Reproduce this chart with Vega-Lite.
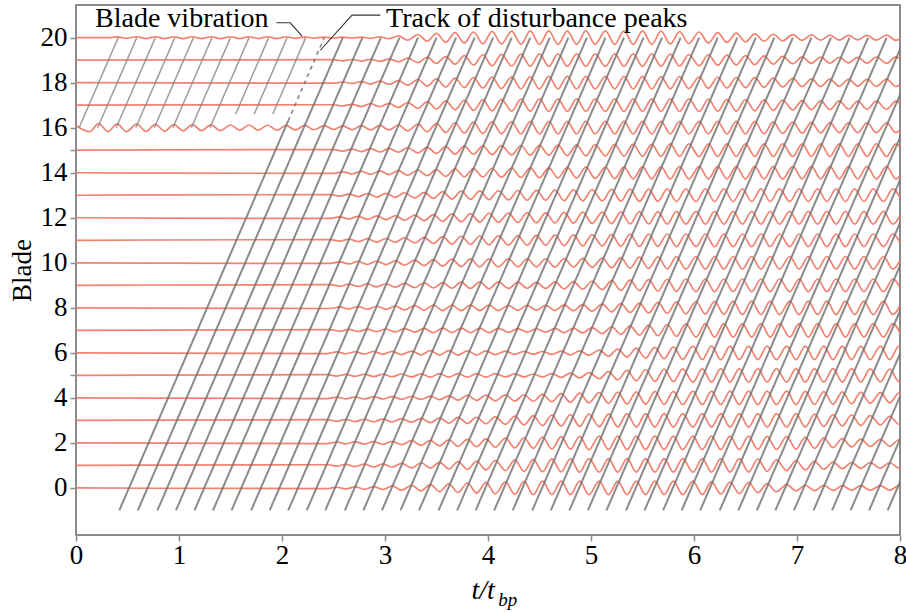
{
"$schema":"https://vega.github.io/schema/vega-lite/v6.json",
"width":824,"height":530,
"autosize":{"type":"none"},
"padding":{"left":76,"top":5,"right":6,"bottom":77},
"config":{"view":{"stroke":"#8c8c8c","strokeWidth":2},"font":"Liberation Serif"},
"datasets":{
"blades":[
{"b":0,"x":0,"y":0},{"b":0,"x":2.44,"y":-0.03},{"b":0,"x":2.53,"y":0.03},{"b":0,"x":2.62,"y":-0.04},{"b":0,"x":2.71,"y":0.05},{"b":0,"x":2.80,"y":-0.06},{"b":0,"x":2.89,"y":0.06},{"b":0,"x":2.98,"y":-0.07},{"b":0,"x":3.07,"y":0.09},{"b":0,"x":3.16,"y":-0.10},{"b":0,"x":3.26,"y":0.12},{"b":0,"x":3.35,"y":-0.13},{"b":0,"x":3.44,"y":0.15},{"b":0,"x":3.53,"y":-0.16},{"b":0,"x":3.62,"y":0.18},{"b":0,"x":3.71,"y":-0.20},{"b":0,"x":3.80,"y":0.22},{"b":0,"x":3.89,"y":-0.23},{"b":0,"x":3.98,"y":0.25},{"b":0,"x":4.07,"y":-0.26},{"b":0,"x":4.17,"y":0.27},{"b":0,"x":4.26,"y":-0.28},{"b":0,"x":4.35,"y":0.29},{"b":0,"x":4.44,"y":-0.30},{"b":0,"x":4.53,"y":0.30},{"b":0,"x":4.62,"y":-0.30},{"b":0,"x":4.71,"y":0.30},{"b":0,"x":4.80,"y":-0.30},{"b":0,"x":4.89,"y":0.30},{"b":0,"x":4.98,"y":-0.30},{"b":0,"x":5.08,"y":0.30},{"b":0,"x":5.17,"y":-0.30},{"b":0,"x":5.26,"y":0.30},{"b":0,"x":5.35,"y":-0.30},{"b":0,"x":5.44,"y":0.30},{"b":0,"x":5.53,"y":-0.30},{"b":0,"x":5.62,"y":0.30},{"b":0,"x":5.71,"y":-0.30},{"b":0,"x":5.80,"y":0.30},{"b":0,"x":5.89,"y":-0.30},{"b":0,"x":5.99,"y":0.30},{"b":0,"x":6.08,"y":-0.29},{"b":0,"x":6.17,"y":0.28},{"b":0,"x":6.26,"y":-0.27},{"b":0,"x":6.35,"y":0.26},{"b":0,"x":6.44,"y":-0.25},{"b":0,"x":6.53,"y":0.24},{"b":0,"x":6.62,"y":-0.21},{"b":0,"x":6.71,"y":0.19},{"b":0,"x":6.80,"y":-0.17},{"b":0,"x":6.90,"y":0.15},{"b":0,"x":6.99,"y":-0.13},{"b":0,"x":7.08,"y":0.12},{"b":0,"x":7.17,"y":-0.12},{"b":0,"x":7.26,"y":0.11},{"b":0,"x":7.35,"y":-0.11},{"b":0,"x":7.44,"y":0.10},{"b":0,"x":7.53,"y":-0.10},{"b":0,"x":7.62,"y":0.10},{"b":0,"x":7.71,"y":-0.10},{"b":0,"x":7.81,"y":0.10},{"b":0,"x":7.90,"y":-0.10},{"b":0,"x":7.99,"y":0.10},{"b":0,"x":8.08,"y":-0.10},
{"b":1,"x":0,"y":1},{"b":1,"x":2.44,"y":1.03},{"b":1,"x":2.53,"y":0.97},{"b":1,"x":2.62,"y":1.05},{"b":1,"x":2.71,"y":0.95},{"b":1,"x":2.80,"y":1.06},{"b":1,"x":2.89,"y":0.93},{"b":1,"x":2.98,"y":1.07},{"b":1,"x":3.07,"y":0.92},{"b":1,"x":3.16,"y":1.09},{"b":1,"x":3.26,"y":0.89},{"b":1,"x":3.35,"y":1.12},{"b":1,"x":3.44,"y":0.88},{"b":1,"x":3.53,"y":1.14},{"b":1,"x":3.62,"y":0.85},{"b":1,"x":3.71,"y":1.17},{"b":1,"x":3.80,"y":0.82},{"b":1,"x":3.89,"y":1.19},{"b":1,"x":3.98,"y":0.80},{"b":1,"x":4.07,"y":1.22},{"b":1,"x":4.17,"y":0.77},{"b":1,"x":4.26,"y":1.25},{"b":1,"x":4.35,"y":0.74},{"b":1,"x":4.44,"y":1.27},{"b":1,"x":4.53,"y":0.72},{"b":1,"x":4.62,"y":1.29},{"b":1,"x":4.71,"y":0.71},{"b":1,"x":4.80,"y":1.29},{"b":1,"x":4.89,"y":0.70},{"b":1,"x":4.98,"y":1.30},{"b":1,"x":5.08,"y":0.70},{"b":1,"x":5.17,"y":1.30},{"b":1,"x":5.26,"y":0.70},{"b":1,"x":5.35,"y":1.30},{"b":1,"x":5.44,"y":0.70},{"b":1,"x":5.53,"y":1.30},{"b":1,"x":5.62,"y":0.70},{"b":1,"x":5.71,"y":1.30},{"b":1,"x":5.80,"y":0.70},{"b":1,"x":5.89,"y":1.30},{"b":1,"x":5.99,"y":0.70},{"b":1,"x":6.08,"y":1.30},{"b":1,"x":6.17,"y":0.70},{"b":1,"x":6.26,"y":1.30},{"b":1,"x":6.35,"y":0.70},{"b":1,"x":6.44,"y":1.30},{"b":1,"x":6.53,"y":0.71},{"b":1,"x":6.62,"y":1.28},{"b":1,"x":6.71,"y":0.74},{"b":1,"x":6.80,"y":1.25},{"b":1,"x":6.90,"y":0.77},{"b":1,"x":6.99,"y":1.22},{"b":1,"x":7.08,"y":0.80},{"b":1,"x":7.17,"y":1.18},{"b":1,"x":7.26,"y":0.83},{"b":1,"x":7.35,"y":1.15},{"b":1,"x":7.44,"y":0.86},{"b":1,"x":7.53,"y":1.13},{"b":1,"x":7.62,"y":0.87},{"b":1,"x":7.71,"y":1.13},{"b":1,"x":7.81,"y":0.88},{"b":1,"x":7.90,"y":1.12},{"b":1,"x":7.99,"y":0.88},{"b":1,"x":8.08,"y":1.12},
{"b":2,"x":0,"y":2},{"b":2,"x":2.44,"y":1.97},{"b":2,"x":2.53,"y":2.04},{"b":2,"x":2.62,"y":1.96},{"b":2,"x":2.71,"y":2.05},{"b":2,"x":2.80,"y":1.95},{"b":2,"x":2.89,"y":2.06},{"b":2,"x":2.98,"y":1.94},{"b":2,"x":3.07,"y":2.07},{"b":2,"x":3.16,"y":1.92},{"b":2,"x":3.26,"y":2.10},{"b":2,"x":3.35,"y":1.89},{"b":2,"x":3.44,"y":2.11},{"b":2,"x":3.53,"y":1.87},{"b":2,"x":3.62,"y":2.14},{"b":2,"x":3.71,"y":1.85},{"b":2,"x":3.80,"y":2.16},{"b":2,"x":3.89,"y":1.83},{"b":2,"x":3.98,"y":2.18},{"b":2,"x":4.07,"y":1.81},{"b":2,"x":4.17,"y":2.21},{"b":2,"x":4.26,"y":1.78},{"b":2,"x":4.35,"y":2.23},{"b":2,"x":4.44,"y":1.76},{"b":2,"x":4.53,"y":2.26},{"b":2,"x":4.62,"y":1.73},{"b":2,"x":4.71,"y":2.28},{"b":2,"x":4.80,"y":1.72},{"b":2,"x":4.89,"y":2.29},{"b":2,"x":4.98,"y":1.70},{"b":2,"x":5.08,"y":2.30},{"b":2,"x":5.17,"y":1.70},{"b":2,"x":5.26,"y":2.30},{"b":2,"x":5.35,"y":1.70},{"b":2,"x":5.44,"y":2.30},{"b":2,"x":5.53,"y":1.70},{"b":2,"x":5.62,"y":2.30},{"b":2,"x":5.71,"y":1.70},{"b":2,"x":5.80,"y":2.30},{"b":2,"x":5.89,"y":1.70},{"b":2,"x":5.99,"y":2.30},{"b":2,"x":6.08,"y":1.70},{"b":2,"x":6.17,"y":2.30},{"b":2,"x":6.26,"y":1.70},{"b":2,"x":6.35,"y":2.30},{"b":2,"x":6.44,"y":1.70},{"b":2,"x":6.53,"y":2.30},{"b":2,"x":6.62,"y":1.71},{"b":2,"x":6.71,"y":2.29},{"b":2,"x":6.80,"y":1.71},{"b":2,"x":6.90,"y":2.28},{"b":2,"x":6.99,"y":1.72},{"b":2,"x":7.08,"y":2.26},{"b":2,"x":7.17,"y":1.76},{"b":2,"x":7.26,"y":2.22},{"b":2,"x":7.35,"y":1.79},{"b":2,"x":7.44,"y":2.19},{"b":2,"x":7.53,"y":1.82},{"b":2,"x":7.62,"y":2.17},{"b":2,"x":7.71,"y":1.84},{"b":2,"x":7.81,"y":2.16},{"b":2,"x":7.90,"y":1.85},{"b":2,"x":7.99,"y":2.14},{"b":2,"x":8.08,"y":1.86},
{"b":3,"x":0,"y":3},{"b":3,"x":2.44,"y":3.03},{"b":3,"x":2.53,"y":2.96},{"b":3,"x":2.62,"y":3.04},{"b":3,"x":2.71,"y":2.95},{"b":3,"x":2.80,"y":3.05},{"b":3,"x":2.89,"y":2.94},{"b":3,"x":2.98,"y":3.06},{"b":3,"x":3.07,"y":2.93},{"b":3,"x":3.16,"y":3.08},{"b":3,"x":3.26,"y":2.92},{"b":3,"x":3.35,"y":3.09},{"b":3,"x":3.44,"y":2.90},{"b":3,"x":3.53,"y":3.11},{"b":3,"x":3.62,"y":2.88},{"b":3,"x":3.71,"y":3.13},{"b":3,"x":3.80,"y":2.87},{"b":3,"x":3.89,"y":3.14},{"b":3,"x":3.98,"y":2.85},{"b":3,"x":4.07,"y":3.16},{"b":3,"x":4.17,"y":2.82},{"b":3,"x":4.26,"y":3.19},{"b":3,"x":4.35,"y":2.80},{"b":3,"x":4.44,"y":3.21},{"b":3,"x":4.53,"y":2.77},{"b":3,"x":4.62,"y":3.24},{"b":3,"x":4.71,"y":2.75},{"b":3,"x":4.80,"y":3.26},{"b":3,"x":4.89,"y":2.73},{"b":3,"x":4.98,"y":3.28},{"b":3,"x":5.08,"y":2.72},{"b":3,"x":5.17,"y":3.29},{"b":3,"x":5.26,"y":2.71},{"b":3,"x":5.35,"y":3.30},{"b":3,"x":5.44,"y":2.70},{"b":3,"x":5.53,"y":3.30},{"b":3,"x":5.62,"y":2.70},{"b":3,"x":5.71,"y":3.30},{"b":3,"x":5.80,"y":2.70},{"b":3,"x":5.89,"y":3.30},{"b":3,"x":5.99,"y":2.70},{"b":3,"x":6.08,"y":3.30},{"b":3,"x":6.17,"y":2.70},{"b":3,"x":6.26,"y":3.30},{"b":3,"x":6.35,"y":2.70},{"b":3,"x":6.44,"y":3.30},{"b":3,"x":6.53,"y":2.70},{"b":3,"x":6.62,"y":3.30},{"b":3,"x":6.71,"y":2.70},{"b":3,"x":6.80,"y":3.30},{"b":3,"x":6.90,"y":2.70},{"b":3,"x":6.99,"y":3.30},{"b":3,"x":7.08,"y":2.71},{"b":3,"x":7.17,"y":3.28},{"b":3,"x":7.26,"y":2.73},{"b":3,"x":7.35,"y":3.26},{"b":3,"x":7.44,"y":2.75},{"b":3,"x":7.53,"y":3.24},{"b":3,"x":7.62,"y":2.77},{"b":3,"x":7.71,"y":3.21},{"b":3,"x":7.81,"y":2.80},{"b":3,"x":7.90,"y":3.18},{"b":3,"x":7.99,"y":2.83},{"b":3,"x":8.08,"y":3.17},
{"b":4,"x":0,"y":4},{"b":4,"x":2.44,"y":3.97},{"b":4,"x":2.53,"y":4.03},{"b":4,"x":2.62,"y":3.96},{"b":4,"x":2.71,"y":4.04},{"b":4,"x":2.80,"y":3.95},{"b":4,"x":2.89,"y":4.05},{"b":4,"x":2.98,"y":3.95},{"b":4,"x":3.07,"y":4.06},{"b":4,"x":3.16,"y":3.94},{"b":4,"x":3.26,"y":4.07},{"b":4,"x":3.35,"y":3.93},{"b":4,"x":3.44,"y":4.08},{"b":4,"x":3.53,"y":3.92},{"b":4,"x":3.62,"y":4.09},{"b":4,"x":3.71,"y":3.90},{"b":4,"x":3.80,"y":4.11},{"b":4,"x":3.89,"y":3.89},{"b":4,"x":3.98,"y":4.12},{"b":4,"x":4.07,"y":3.87},{"b":4,"x":4.17,"y":4.13},{"b":4,"x":4.26,"y":3.86},{"b":4,"x":4.35,"y":4.14},{"b":4,"x":4.44,"y":3.85},{"b":4,"x":4.53,"y":4.16},{"b":4,"x":4.62,"y":3.83},{"b":4,"x":4.71,"y":4.19},{"b":4,"x":4.80,"y":3.80},{"b":4,"x":4.89,"y":4.21},{"b":4,"x":4.98,"y":3.78},{"b":4,"x":5.08,"y":4.23},{"b":4,"x":5.17,"y":3.76},{"b":4,"x":5.26,"y":4.26},{"b":4,"x":5.35,"y":3.73},{"b":4,"x":5.44,"y":4.27},{"b":4,"x":5.53,"y":3.72},{"b":4,"x":5.62,"y":4.29},{"b":4,"x":5.71,"y":3.71},{"b":4,"x":5.80,"y":4.29},{"b":4,"x":5.89,"y":3.70},{"b":4,"x":5.99,"y":4.30},{"b":4,"x":6.08,"y":3.70},{"b":4,"x":6.17,"y":4.30},{"b":4,"x":6.26,"y":3.70},{"b":4,"x":6.35,"y":4.30},{"b":4,"x":6.44,"y":3.70},{"b":4,"x":6.53,"y":4.30},{"b":4,"x":6.62,"y":3.70},{"b":4,"x":6.71,"y":4.30},{"b":4,"x":6.80,"y":3.70},{"b":4,"x":6.90,"y":4.30},{"b":4,"x":6.99,"y":3.70},{"b":4,"x":7.08,"y":4.29},{"b":4,"x":7.17,"y":3.71},{"b":4,"x":7.26,"y":4.28},{"b":4,"x":7.35,"y":3.72},{"b":4,"x":7.44,"y":4.27},{"b":4,"x":7.53,"y":3.74},{"b":4,"x":7.62,"y":4.26},{"b":4,"x":7.71,"y":3.76},{"b":4,"x":7.81,"y":4.23},{"b":4,"x":7.90,"y":3.78},{"b":4,"x":7.99,"y":4.21},{"b":4,"x":8.08,"y":3.79},
{"b":5,"x":0,"y":5},{"b":5,"x":2.44,"y":5.03},{"b":5,"x":2.53,"y":4.97},{"b":5,"x":2.62,"y":5.04},{"b":5,"x":2.71,"y":4.96},{"b":5,"x":2.80,"y":5.05},{"b":5,"x":2.89,"y":4.95},{"b":5,"x":2.98,"y":5.05},{"b":5,"x":3.07,"y":4.94},{"b":5,"x":3.16,"y":5.06},{"b":5,"x":3.26,"y":4.93},{"b":5,"x":3.35,"y":5.07},{"b":5,"x":3.44,"y":4.92},{"b":5,"x":3.53,"y":5.08},{"b":5,"x":3.62,"y":4.92},{"b":5,"x":3.71,"y":5.08},{"b":5,"x":3.80,"y":4.92},{"b":5,"x":3.89,"y":5.08},{"b":5,"x":3.98,"y":4.92},{"b":5,"x":4.07,"y":5.08},{"b":5,"x":4.17,"y":4.93},{"b":5,"x":4.26,"y":5.07},{"b":5,"x":4.35,"y":4.93},{"b":5,"x":4.44,"y":5.06},{"b":5,"x":4.53,"y":4.93},{"b":5,"x":4.62,"y":5.08},{"b":5,"x":4.71,"y":4.91},{"b":5,"x":4.80,"y":5.10},{"b":5,"x":4.89,"y":4.89},{"b":5,"x":4.98,"y":5.12},{"b":5,"x":5.08,"y":4.85},{"b":5,"x":5.17,"y":5.17},{"b":5,"x":5.26,"y":4.80},{"b":5,"x":5.35,"y":5.22},{"b":5,"x":5.44,"y":4.76},{"b":5,"x":5.53,"y":5.26},{"b":5,"x":5.62,"y":4.73},{"b":5,"x":5.71,"y":5.28},{"b":5,"x":5.80,"y":4.72},{"b":5,"x":5.89,"y":5.29},{"b":5,"x":5.99,"y":4.70},{"b":5,"x":6.08,"y":5.30},{"b":5,"x":6.17,"y":4.70},{"b":5,"x":6.26,"y":5.30},{"b":5,"x":6.35,"y":4.70},{"b":5,"x":6.44,"y":5.30},{"b":5,"x":6.53,"y":4.70},{"b":5,"x":6.62,"y":5.30},{"b":5,"x":6.71,"y":4.70},{"b":5,"x":6.80,"y":5.30},{"b":5,"x":6.90,"y":4.70},{"b":5,"x":6.99,"y":5.30},{"b":5,"x":7.08,"y":4.70},{"b":5,"x":7.17,"y":5.30},{"b":5,"x":7.26,"y":4.70},{"b":5,"x":7.35,"y":5.30},{"b":5,"x":7.44,"y":4.70},{"b":5,"x":7.53,"y":5.30},{"b":5,"x":7.62,"y":4.70},{"b":5,"x":7.71,"y":5.29},{"b":5,"x":7.81,"y":4.71},{"b":5,"x":7.90,"y":5.28},{"b":5,"x":7.99,"y":4.72},{"b":5,"x":8.08,"y":5.28},
{"b":6,"x":0,"y":6},{"b":6,"x":2.44,"y":5.97},{"b":6,"x":2.53,"y":6.04},{"b":6,"x":2.62,"y":5.96},{"b":6,"x":2.71,"y":6.05},{"b":6,"x":2.80,"y":5.95},{"b":6,"x":2.89,"y":6.06},{"b":6,"x":2.98,"y":5.94},{"b":6,"x":3.07,"y":6.07},{"b":6,"x":3.16,"y":5.92},{"b":6,"x":3.26,"y":6.08},{"b":6,"x":3.35,"y":5.91},{"b":6,"x":3.44,"y":6.10},{"b":6,"x":3.53,"y":5.90},{"b":6,"x":3.62,"y":6.10},{"b":6,"x":3.71,"y":5.90},{"b":6,"x":3.80,"y":6.09},{"b":6,"x":3.89,"y":5.91},{"b":6,"x":3.98,"y":6.09},{"b":6,"x":4.07,"y":5.92},{"b":6,"x":4.17,"y":6.08},{"b":6,"x":4.26,"y":5.93},{"b":6,"x":4.35,"y":6.07},{"b":6,"x":4.44,"y":5.94},{"b":6,"x":4.53,"y":6.06},{"b":6,"x":4.62,"y":5.93},{"b":6,"x":4.71,"y":6.08},{"b":6,"x":4.80,"y":5.91},{"b":6,"x":4.89,"y":6.09},{"b":6,"x":4.98,"y":5.90},{"b":6,"x":5.08,"y":6.12},{"b":6,"x":5.17,"y":5.85},{"b":6,"x":5.26,"y":6.17},{"b":6,"x":5.35,"y":5.81},{"b":6,"x":5.44,"y":6.21},{"b":6,"x":5.53,"y":5.77},{"b":6,"x":5.62,"y":6.24},{"b":6,"x":5.71,"y":5.74},{"b":6,"x":5.80,"y":6.27},{"b":6,"x":5.89,"y":5.71},{"b":6,"x":5.99,"y":6.30},{"b":6,"x":6.08,"y":5.70},{"b":6,"x":6.17,"y":6.30},{"b":6,"x":6.26,"y":5.70},{"b":6,"x":6.35,"y":6.30},{"b":6,"x":6.44,"y":5.70},{"b":6,"x":6.53,"y":6.30},{"b":6,"x":6.62,"y":5.70},{"b":6,"x":6.71,"y":6.30},{"b":6,"x":6.80,"y":5.70},{"b":6,"x":6.90,"y":6.30},{"b":6,"x":6.99,"y":5.70},{"b":6,"x":7.08,"y":6.30},{"b":6,"x":7.17,"y":5.70},{"b":6,"x":7.26,"y":6.30},{"b":6,"x":7.35,"y":5.70},{"b":6,"x":7.44,"y":6.30},{"b":6,"x":7.53,"y":5.70},{"b":6,"x":7.62,"y":6.30},{"b":6,"x":7.71,"y":5.70},{"b":6,"x":7.81,"y":6.30},{"b":6,"x":7.90,"y":5.70},{"b":6,"x":7.99,"y":6.30},{"b":6,"x":8.08,"y":5.70},
{"b":7,"x":0,"y":7},{"b":7,"x":2.47,"y":7.03},{"b":7,"x":2.56,"y":6.96},{"b":7,"x":2.65,"y":7.04},{"b":7,"x":2.74,"y":6.95},{"b":7,"x":2.83,"y":7.05},{"b":7,"x":2.92,"y":6.94},{"b":7,"x":3.01,"y":7.06},{"b":7,"x":3.10,"y":6.93},{"b":7,"x":3.19,"y":7.08},{"b":7,"x":3.29,"y":6.92},{"b":7,"x":3.38,"y":7.09},{"b":7,"x":3.47,"y":6.90},{"b":7,"x":3.56,"y":7.10},{"b":7,"x":3.65,"y":6.90},{"b":7,"x":3.74,"y":7.10},{"b":7,"x":3.83,"y":6.90},{"b":7,"x":3.92,"y":7.10},{"b":7,"x":4.01,"y":6.90},{"b":7,"x":4.10,"y":7.09},{"b":7,"x":4.20,"y":6.91},{"b":7,"x":4.29,"y":7.08},{"b":7,"x":4.38,"y":6.92},{"b":7,"x":4.47,"y":7.07},{"b":7,"x":4.56,"y":6.92},{"b":7,"x":4.65,"y":7.09},{"b":7,"x":4.74,"y":6.90},{"b":7,"x":4.83,"y":7.10},{"b":7,"x":4.92,"y":6.89},{"b":7,"x":5.01,"y":7.12},{"b":7,"x":5.11,"y":6.86},{"b":7,"x":5.20,"y":7.16},{"b":7,"x":5.29,"y":6.82},{"b":7,"x":5.38,"y":7.20},{"b":7,"x":5.47,"y":6.79},{"b":7,"x":5.56,"y":7.23},{"b":7,"x":5.65,"y":6.76},{"b":7,"x":5.74,"y":7.26},{"b":7,"x":5.83,"y":6.73},{"b":7,"x":5.92,"y":7.29},{"b":7,"x":6.02,"y":6.70},{"b":7,"x":6.11,"y":7.30},{"b":7,"x":6.20,"y":6.70},{"b":7,"x":6.29,"y":7.30},{"b":7,"x":6.38,"y":6.70},{"b":7,"x":6.47,"y":7.30},{"b":7,"x":6.56,"y":6.70},{"b":7,"x":6.65,"y":7.30},{"b":7,"x":6.74,"y":6.70},{"b":7,"x":6.83,"y":7.30},{"b":7,"x":6.93,"y":6.70},{"b":7,"x":7.02,"y":7.30},{"b":7,"x":7.11,"y":6.70},{"b":7,"x":7.20,"y":7.30},{"b":7,"x":7.29,"y":6.70},{"b":7,"x":7.38,"y":7.30},{"b":7,"x":7.47,"y":6.70},{"b":7,"x":7.56,"y":7.30},{"b":7,"x":7.65,"y":6.70},{"b":7,"x":7.74,"y":7.30},{"b":7,"x":7.84,"y":6.70},{"b":7,"x":7.93,"y":7.30},{"b":7,"x":8.02,"y":6.70},
{"b":8,"x":0,"y":8},{"b":8,"x":2.47,"y":7.97},{"b":8,"x":2.56,"y":8.04},{"b":8,"x":2.65,"y":7.95},{"b":8,"x":2.74,"y":8.05},{"b":8,"x":2.83,"y":7.94},{"b":8,"x":2.92,"y":8.07},{"b":8,"x":3.01,"y":7.93},{"b":8,"x":3.10,"y":8.08},{"b":8,"x":3.19,"y":7.91},{"b":8,"x":3.29,"y":8.10},{"b":8,"x":3.38,"y":7.89},{"b":8,"x":3.47,"y":8.12},{"b":8,"x":3.56,"y":7.88},{"b":8,"x":3.65,"y":8.12},{"b":8,"x":3.74,"y":7.88},{"b":8,"x":3.83,"y":8.12},{"b":8,"x":3.92,"y":7.88},{"b":8,"x":4.01,"y":8.12},{"b":8,"x":4.10,"y":7.88},{"b":8,"x":4.20,"y":8.11},{"b":8,"x":4.29,"y":7.89},{"b":8,"x":4.38,"y":8.11},{"b":8,"x":4.47,"y":7.90},{"b":8,"x":4.56,"y":8.11},{"b":8,"x":4.65,"y":7.88},{"b":8,"x":4.74,"y":8.13},{"b":8,"x":4.83,"y":7.87},{"b":8,"x":4.92,"y":8.14},{"b":8,"x":5.01,"y":7.85},{"b":8,"x":5.11,"y":8.16},{"b":8,"x":5.20,"y":7.82},{"b":8,"x":5.29,"y":8.19},{"b":8,"x":5.38,"y":7.80},{"b":8,"x":5.47,"y":8.21},{"b":8,"x":5.56,"y":7.77},{"b":8,"x":5.65,"y":8.24},{"b":8,"x":5.74,"y":7.75},{"b":8,"x":5.83,"y":8.26},{"b":8,"x":5.92,"y":7.73},{"b":8,"x":6.02,"y":8.28},{"b":8,"x":6.11,"y":7.72},{"b":8,"x":6.20,"y":8.29},{"b":8,"x":6.29,"y":7.71},{"b":8,"x":6.38,"y":8.30},{"b":8,"x":6.47,"y":7.70},{"b":8,"x":6.56,"y":8.30},{"b":8,"x":6.65,"y":7.70},{"b":8,"x":6.74,"y":8.30},{"b":8,"x":6.83,"y":7.70},{"b":8,"x":6.93,"y":8.30},{"b":8,"x":7.02,"y":7.70},{"b":8,"x":7.11,"y":8.30},{"b":8,"x":7.20,"y":7.70},{"b":8,"x":7.29,"y":8.30},{"b":8,"x":7.38,"y":7.70},{"b":8,"x":7.47,"y":8.30},{"b":8,"x":7.56,"y":7.70},{"b":8,"x":7.65,"y":8.30},{"b":8,"x":7.74,"y":7.70},{"b":8,"x":7.84,"y":8.30},{"b":8,"x":7.93,"y":7.70},{"b":8,"x":8.02,"y":8.30},
{"b":9,"x":0,"y":9},{"b":9,"x":2.47,"y":9.03},{"b":9,"x":2.56,"y":8.96},{"b":9,"x":2.65,"y":9.05},{"b":9,"x":2.74,"y":8.95},{"b":9,"x":2.83,"y":9.06},{"b":9,"x":2.92,"y":8.93},{"b":9,"x":3.01,"y":9.07},{"b":9,"x":3.10,"y":8.92},{"b":9,"x":3.19,"y":9.09},{"b":9,"x":3.29,"y":8.90},{"b":9,"x":3.38,"y":9.11},{"b":9,"x":3.47,"y":8.88},{"b":9,"x":3.56,"y":9.12},{"b":9,"x":3.65,"y":8.87},{"b":9,"x":3.74,"y":9.14},{"b":9,"x":3.83,"y":8.86},{"b":9,"x":3.92,"y":9.15},{"b":9,"x":4.01,"y":8.85},{"b":9,"x":4.10,"y":9.15},{"b":9,"x":4.20,"y":8.86},{"b":9,"x":4.29,"y":9.14},{"b":9,"x":4.38,"y":8.87},{"b":9,"x":4.47,"y":9.13},{"b":9,"x":4.56,"y":8.86},{"b":9,"x":4.65,"y":9.15},{"b":9,"x":4.74,"y":8.84},{"b":9,"x":4.83,"y":9.16},{"b":9,"x":4.92,"y":8.83},{"b":9,"x":5.01,"y":9.18},{"b":9,"x":5.11,"y":8.81},{"b":9,"x":5.20,"y":9.21},{"b":9,"x":5.29,"y":8.78},{"b":9,"x":5.38,"y":9.23},{"b":9,"x":5.47,"y":8.76},{"b":9,"x":5.56,"y":9.25},{"b":9,"x":5.65,"y":8.74},{"b":9,"x":5.74,"y":9.27},{"b":9,"x":5.83,"y":8.73},{"b":9,"x":5.92,"y":9.28},{"b":9,"x":6.02,"y":8.72},{"b":9,"x":6.11,"y":9.28},{"b":9,"x":6.20,"y":8.72},{"b":9,"x":6.29,"y":9.28},{"b":9,"x":6.38,"y":8.72},{"b":9,"x":6.47,"y":9.28},{"b":9,"x":6.56,"y":8.72},{"b":9,"x":6.65,"y":9.28},{"b":9,"x":6.74,"y":8.72},{"b":9,"x":6.83,"y":9.28},{"b":9,"x":6.93,"y":8.72},{"b":9,"x":7.02,"y":9.28},{"b":9,"x":7.11,"y":8.72},{"b":9,"x":7.20,"y":9.28},{"b":9,"x":7.29,"y":8.72},{"b":9,"x":7.38,"y":9.28},{"b":9,"x":7.47,"y":8.72},{"b":9,"x":7.56,"y":9.28},{"b":9,"x":7.65,"y":8.72},{"b":9,"x":7.74,"y":9.28},{"b":9,"x":7.84,"y":8.72},{"b":9,"x":7.93,"y":9.28},{"b":9,"x":8.02,"y":8.72},
{"b":10,"x":0,"y":10},{"b":10,"x":2.47,"y":9.97},{"b":10,"x":2.56,"y":10.04},{"b":10,"x":2.65,"y":9.95},{"b":10,"x":2.74,"y":10.06},{"b":10,"x":2.83,"y":9.93},{"b":10,"x":2.92,"y":10.08},{"b":10,"x":3.01,"y":9.92},{"b":10,"x":3.10,"y":10.09},{"b":10,"x":3.19,"y":9.89},{"b":10,"x":3.29,"y":10.12},{"b":10,"x":3.38,"y":9.87},{"b":10,"x":3.47,"y":10.14},{"b":10,"x":3.56,"y":9.85},{"b":10,"x":3.65,"y":10.16},{"b":10,"x":3.74,"y":9.83},{"b":10,"x":3.83,"y":10.17},{"b":10,"x":3.92,"y":9.82},{"b":10,"x":4.01,"y":10.18},{"b":10,"x":4.10,"y":9.82},{"b":10,"x":4.20,"y":10.18},{"b":10,"x":4.29,"y":9.82},{"b":10,"x":4.38,"y":10.18},{"b":10,"x":4.47,"y":9.82},{"b":10,"x":4.56,"y":10.18},{"b":10,"x":4.65,"y":9.81},{"b":10,"x":4.74,"y":10.19},{"b":10,"x":4.83,"y":9.81},{"b":10,"x":4.92,"y":10.20},{"b":10,"x":5.01,"y":9.80},{"b":10,"x":5.11,"y":10.21},{"b":10,"x":5.20,"y":9.78},{"b":10,"x":5.29,"y":10.23},{"b":10,"x":5.38,"y":9.76},{"b":10,"x":5.47,"y":10.25},{"b":10,"x":5.56,"y":9.75},{"b":10,"x":5.65,"y":10.26},{"b":10,"x":5.74,"y":9.73},{"b":10,"x":5.83,"y":10.27},{"b":10,"x":5.92,"y":9.72},{"b":10,"x":6.02,"y":10.28},{"b":10,"x":6.11,"y":9.72},{"b":10,"x":6.20,"y":10.28},{"b":10,"x":6.29,"y":9.72},{"b":10,"x":6.38,"y":10.28},{"b":10,"x":6.47,"y":9.72},{"b":10,"x":6.56,"y":10.28},{"b":10,"x":6.65,"y":9.72},{"b":10,"x":6.74,"y":10.28},{"b":10,"x":6.83,"y":9.72},{"b":10,"x":6.93,"y":10.28},{"b":10,"x":7.02,"y":9.72},{"b":10,"x":7.11,"y":10.28},{"b":10,"x":7.20,"y":9.72},{"b":10,"x":7.29,"y":10.28},{"b":10,"x":7.38,"y":9.72},{"b":10,"x":7.47,"y":10.28},{"b":10,"x":7.56,"y":9.72},{"b":10,"x":7.65,"y":10.28},{"b":10,"x":7.74,"y":9.72},{"b":10,"x":7.84,"y":10.28},{"b":10,"x":7.93,"y":9.72},{"b":10,"x":8.02,"y":10.28},
{"b":11,"x":0,"y":11},{"b":11,"x":2.47,"y":11.03},{"b":11,"x":2.56,"y":10.96},{"b":11,"x":2.65,"y":11.05},{"b":11,"x":2.74,"y":10.94},{"b":11,"x":2.83,"y":11.07},{"b":11,"x":2.92,"y":10.92},{"b":11,"x":3.01,"y":11.08},{"b":11,"x":3.10,"y":10.91},{"b":11,"x":3.19,"y":11.11},{"b":11,"x":3.29,"y":10.88},{"b":11,"x":3.38,"y":11.13},{"b":11,"x":3.47,"y":10.86},{"b":11,"x":3.56,"y":11.16},{"b":11,"x":3.65,"y":10.83},{"b":11,"x":3.74,"y":11.18},{"b":11,"x":3.83,"y":10.82},{"b":11,"x":3.92,"y":11.19},{"b":11,"x":4.01,"y":10.80},{"b":11,"x":4.10,"y":11.20},{"b":11,"x":4.20,"y":10.79},{"b":11,"x":4.29,"y":11.21},{"b":11,"x":4.38,"y":10.78},{"b":11,"x":4.47,"y":11.22},{"b":11,"x":4.56,"y":10.78},{"b":11,"x":4.65,"y":11.23},{"b":11,"x":4.74,"y":10.76},{"b":11,"x":4.83,"y":11.24},{"b":11,"x":4.92,"y":10.75},{"b":11,"x":5.01,"y":11.25},{"b":11,"x":5.11,"y":10.75},{"b":11,"x":5.20,"y":11.26},{"b":11,"x":5.29,"y":10.74},{"b":11,"x":5.38,"y":11.27},{"b":11,"x":5.47,"y":10.73},{"b":11,"x":5.56,"y":11.27},{"b":11,"x":5.65,"y":10.73},{"b":11,"x":5.74,"y":11.28},{"b":11,"x":5.83,"y":10.72},{"b":11,"x":5.92,"y":11.28},{"b":11,"x":6.02,"y":10.72},{"b":11,"x":6.11,"y":11.28},{"b":11,"x":6.20,"y":10.72},{"b":11,"x":6.29,"y":11.28},{"b":11,"x":6.38,"y":10.72},{"b":11,"x":6.47,"y":11.28},{"b":11,"x":6.56,"y":10.72},{"b":11,"x":6.65,"y":11.28},{"b":11,"x":6.74,"y":10.72},{"b":11,"x":6.83,"y":11.28},{"b":11,"x":6.93,"y":10.72},{"b":11,"x":7.02,"y":11.28},{"b":11,"x":7.11,"y":10.72},{"b":11,"x":7.20,"y":11.28},{"b":11,"x":7.29,"y":10.72},{"b":11,"x":7.38,"y":11.28},{"b":11,"x":7.47,"y":10.72},{"b":11,"x":7.56,"y":11.28},{"b":11,"x":7.65,"y":10.72},{"b":11,"x":7.74,"y":11.28},{"b":11,"x":7.84,"y":10.72},{"b":11,"x":7.93,"y":11.28},{"b":11,"x":8.02,"y":10.72},
{"b":12,"x":0,"y":12},{"b":12,"x":2.47,"y":11.97},{"b":12,"x":2.56,"y":12.04},{"b":12,"x":2.65,"y":11.95},{"b":12,"x":2.74,"y":12.06},{"b":12,"x":2.83,"y":11.93},{"b":12,"x":2.92,"y":12.08},{"b":12,"x":3.01,"y":11.92},{"b":12,"x":3.10,"y":12.09},{"b":12,"x":3.19,"y":11.89},{"b":12,"x":3.29,"y":12.12},{"b":12,"x":3.38,"y":11.87},{"b":12,"x":3.47,"y":12.14},{"b":12,"x":3.56,"y":11.84},{"b":12,"x":3.65,"y":12.17},{"b":12,"x":3.74,"y":11.82},{"b":12,"x":3.83,"y":12.18},{"b":12,"x":3.92,"y":11.81},{"b":12,"x":4.01,"y":12.20},{"b":12,"x":4.10,"y":11.80},{"b":12,"x":4.20,"y":12.21},{"b":12,"x":4.29,"y":11.79},{"b":12,"x":4.38,"y":12.22},{"b":12,"x":4.47,"y":11.78},{"b":12,"x":4.56,"y":12.22},{"b":12,"x":4.65,"y":11.77},{"b":12,"x":4.74,"y":12.24},{"b":12,"x":4.83,"y":11.76},{"b":12,"x":4.92,"y":12.25},{"b":12,"x":5.01,"y":11.75},{"b":12,"x":5.11,"y":12.25},{"b":12,"x":5.20,"y":11.74},{"b":12,"x":5.29,"y":12.26},{"b":12,"x":5.38,"y":11.73},{"b":12,"x":5.47,"y":12.27},{"b":12,"x":5.56,"y":11.73},{"b":12,"x":5.65,"y":12.27},{"b":12,"x":5.74,"y":11.72},{"b":12,"x":5.83,"y":12.28},{"b":12,"x":5.92,"y":11.72},{"b":12,"x":6.02,"y":12.28},{"b":12,"x":6.11,"y":11.72},{"b":12,"x":6.20,"y":12.28},{"b":12,"x":6.29,"y":11.72},{"b":12,"x":6.38,"y":12.28},{"b":12,"x":6.47,"y":11.72},{"b":12,"x":6.56,"y":12.28},{"b":12,"x":6.65,"y":11.72},{"b":12,"x":6.74,"y":12.28},{"b":12,"x":6.83,"y":11.72},{"b":12,"x":6.93,"y":12.28},{"b":12,"x":7.02,"y":11.72},{"b":12,"x":7.11,"y":12.28},{"b":12,"x":7.20,"y":11.72},{"b":12,"x":7.29,"y":12.28},{"b":12,"x":7.38,"y":11.72},{"b":12,"x":7.47,"y":12.28},{"b":12,"x":7.56,"y":11.72},{"b":12,"x":7.65,"y":12.28},{"b":12,"x":7.74,"y":11.72},{"b":12,"x":7.84,"y":12.28},{"b":12,"x":7.93,"y":11.72},{"b":12,"x":8.02,"y":12.28},
{"b":13,"x":0,"y":13},{"b":13,"x":2.47,"y":13.03},{"b":13,"x":2.56,"y":12.96},{"b":13,"x":2.65,"y":13.05},{"b":13,"x":2.74,"y":12.94},{"b":13,"x":2.83,"y":13.07},{"b":13,"x":2.92,"y":12.92},{"b":13,"x":3.01,"y":13.08},{"b":13,"x":3.10,"y":12.91},{"b":13,"x":3.19,"y":13.11},{"b":13,"x":3.29,"y":12.88},{"b":13,"x":3.38,"y":13.13},{"b":13,"x":3.47,"y":12.86},{"b":13,"x":3.56,"y":13.16},{"b":13,"x":3.65,"y":12.83},{"b":13,"x":3.74,"y":13.18},{"b":13,"x":3.83,"y":12.82},{"b":13,"x":3.92,"y":13.19},{"b":13,"x":4.01,"y":12.80},{"b":13,"x":4.10,"y":13.20},{"b":13,"x":4.20,"y":12.79},{"b":13,"x":4.29,"y":13.21},{"b":13,"x":4.38,"y":12.78},{"b":13,"x":4.47,"y":13.22},{"b":13,"x":4.56,"y":12.78},{"b":13,"x":4.65,"y":13.23},{"b":13,"x":4.74,"y":12.76},{"b":13,"x":4.83,"y":13.24},{"b":13,"x":4.92,"y":12.75},{"b":13,"x":5.01,"y":13.25},{"b":13,"x":5.11,"y":12.75},{"b":13,"x":5.20,"y":13.26},{"b":13,"x":5.29,"y":12.74},{"b":13,"x":5.38,"y":13.27},{"b":13,"x":5.47,"y":12.73},{"b":13,"x":5.56,"y":13.27},{"b":13,"x":5.65,"y":12.73},{"b":13,"x":5.74,"y":13.28},{"b":13,"x":5.83,"y":12.72},{"b":13,"x":5.92,"y":13.28},{"b":13,"x":6.02,"y":12.72},{"b":13,"x":6.11,"y":13.28},{"b":13,"x":6.20,"y":12.72},{"b":13,"x":6.29,"y":13.28},{"b":13,"x":6.38,"y":12.72},{"b":13,"x":6.47,"y":13.28},{"b":13,"x":6.56,"y":12.72},{"b":13,"x":6.65,"y":13.28},{"b":13,"x":6.74,"y":12.72},{"b":13,"x":6.83,"y":13.28},{"b":13,"x":6.93,"y":12.72},{"b":13,"x":7.02,"y":13.28},{"b":13,"x":7.11,"y":12.72},{"b":13,"x":7.20,"y":13.28},{"b":13,"x":7.29,"y":12.72},{"b":13,"x":7.38,"y":13.28},{"b":13,"x":7.47,"y":12.72},{"b":13,"x":7.56,"y":13.28},{"b":13,"x":7.65,"y":12.72},{"b":13,"x":7.74,"y":13.28},{"b":13,"x":7.84,"y":12.72},{"b":13,"x":7.93,"y":13.28},{"b":13,"x":8.02,"y":12.72},
{"b":14,"x":0,"y":14},{"b":14,"x":2.50,"y":13.97},{"b":14,"x":2.59,"y":14.04},{"b":14,"x":2.68,"y":13.95},{"b":14,"x":2.77,"y":14.06},{"b":14,"x":2.86,"y":13.93},{"b":14,"x":2.95,"y":14.08},{"b":14,"x":3.04,"y":13.92},{"b":14,"x":3.13,"y":14.09},{"b":14,"x":3.22,"y":13.89},{"b":14,"x":3.32,"y":14.12},{"b":14,"x":3.41,"y":13.87},{"b":14,"x":3.50,"y":14.14},{"b":14,"x":3.59,"y":13.84},{"b":14,"x":3.68,"y":14.17},{"b":14,"x":3.77,"y":13.82},{"b":14,"x":3.86,"y":14.18},{"b":14,"x":3.95,"y":13.81},{"b":14,"x":4.04,"y":14.20},{"b":14,"x":4.13,"y":13.80},{"b":14,"x":4.23,"y":14.21},{"b":14,"x":4.32,"y":13.79},{"b":14,"x":4.41,"y":14.22},{"b":14,"x":4.50,"y":13.78},{"b":14,"x":4.59,"y":14.22},{"b":14,"x":4.68,"y":13.77},{"b":14,"x":4.77,"y":14.24},{"b":14,"x":4.86,"y":13.76},{"b":14,"x":4.95,"y":14.25},{"b":14,"x":5.04,"y":13.75},{"b":14,"x":5.14,"y":14.25},{"b":14,"x":5.23,"y":13.74},{"b":14,"x":5.32,"y":14.26},{"b":14,"x":5.41,"y":13.73},{"b":14,"x":5.50,"y":14.27},{"b":14,"x":5.59,"y":13.73},{"b":14,"x":5.68,"y":14.27},{"b":14,"x":5.77,"y":13.72},{"b":14,"x":5.86,"y":14.28},{"b":14,"x":5.95,"y":13.72},{"b":14,"x":6.05,"y":14.28},{"b":14,"x":6.14,"y":13.72},{"b":14,"x":6.23,"y":14.28},{"b":14,"x":6.32,"y":13.72},{"b":14,"x":6.41,"y":14.28},{"b":14,"x":6.50,"y":13.72},{"b":14,"x":6.59,"y":14.28},{"b":14,"x":6.68,"y":13.72},{"b":14,"x":6.77,"y":14.28},{"b":14,"x":6.86,"y":13.72},{"b":14,"x":6.96,"y":14.28},{"b":14,"x":7.05,"y":13.72},{"b":14,"x":7.14,"y":14.28},{"b":14,"x":7.23,"y":13.72},{"b":14,"x":7.32,"y":14.28},{"b":14,"x":7.41,"y":13.72},{"b":14,"x":7.50,"y":14.28},{"b":14,"x":7.59,"y":13.72},{"b":14,"x":7.68,"y":14.28},{"b":14,"x":7.77,"y":13.72},{"b":14,"x":7.87,"y":14.28},{"b":14,"x":7.96,"y":13.72},{"b":14,"x":8.05,"y":14.28},
{"b":15,"x":0,"y":15},{"b":15,"x":2.50,"y":15.03},{"b":15,"x":2.59,"y":14.96},{"b":15,"x":2.68,"y":15.05},{"b":15,"x":2.77,"y":14.94},{"b":15,"x":2.86,"y":15.07},{"b":15,"x":2.95,"y":14.92},{"b":15,"x":3.04,"y":15.08},{"b":15,"x":3.13,"y":14.91},{"b":15,"x":3.22,"y":15.11},{"b":15,"x":3.32,"y":14.88},{"b":15,"x":3.41,"y":15.13},{"b":15,"x":3.50,"y":14.86},{"b":15,"x":3.59,"y":15.16},{"b":15,"x":3.68,"y":14.83},{"b":15,"x":3.77,"y":15.18},{"b":15,"x":3.86,"y":14.82},{"b":15,"x":3.95,"y":15.19},{"b":15,"x":4.04,"y":14.80},{"b":15,"x":4.13,"y":15.20},{"b":15,"x":4.23,"y":14.79},{"b":15,"x":4.32,"y":15.21},{"b":15,"x":4.41,"y":14.78},{"b":15,"x":4.50,"y":15.22},{"b":15,"x":4.59,"y":14.78},{"b":15,"x":4.68,"y":15.23},{"b":15,"x":4.77,"y":14.76},{"b":15,"x":4.86,"y":15.24},{"b":15,"x":4.95,"y":14.75},{"b":15,"x":5.04,"y":15.25},{"b":15,"x":5.14,"y":14.75},{"b":15,"x":5.23,"y":15.26},{"b":15,"x":5.32,"y":14.74},{"b":15,"x":5.41,"y":15.27},{"b":15,"x":5.50,"y":14.73},{"b":15,"x":5.59,"y":15.27},{"b":15,"x":5.68,"y":14.73},{"b":15,"x":5.77,"y":15.28},{"b":15,"x":5.86,"y":14.72},{"b":15,"x":5.95,"y":15.28},{"b":15,"x":6.05,"y":14.72},{"b":15,"x":6.14,"y":15.28},{"b":15,"x":6.23,"y":14.72},{"b":15,"x":6.32,"y":15.28},{"b":15,"x":6.41,"y":14.72},{"b":15,"x":6.50,"y":15.28},{"b":15,"x":6.59,"y":14.72},{"b":15,"x":6.68,"y":15.28},{"b":15,"x":6.77,"y":14.72},{"b":15,"x":6.86,"y":15.28},{"b":15,"x":6.96,"y":14.72},{"b":15,"x":7.05,"y":15.28},{"b":15,"x":7.14,"y":14.72},{"b":15,"x":7.23,"y":15.28},{"b":15,"x":7.32,"y":14.72},{"b":15,"x":7.41,"y":15.28},{"b":15,"x":7.50,"y":14.72},{"b":15,"x":7.59,"y":15.28},{"b":15,"x":7.68,"y":14.72},{"b":15,"x":7.77,"y":15.28},{"b":15,"x":7.87,"y":14.72},{"b":15,"x":7.96,"y":15.28},{"b":15,"x":8.05,"y":14.72},
{"b":16,"x":0,"y":16.10},{"b":16,"x":0.13,"y":15.82},{"b":16,"x":0.22,"y":16.18},{"b":16,"x":0.31,"y":15.83},{"b":16,"x":0.40,"y":16.17},{"b":16,"x":0.49,"y":15.83},{"b":16,"x":0.59,"y":16.16},{"b":16,"x":0.68,"y":15.84},{"b":16,"x":0.77,"y":16.15},{"b":16,"x":0.86,"y":15.85},{"b":16,"x":0.95,"y":16.14},{"b":16,"x":1.04,"y":15.86},{"b":16,"x":1.13,"y":16.14},{"b":16,"x":1.22,"y":15.87},{"b":16,"x":1.31,"y":16.13},{"b":16,"x":1.40,"y":15.87},{"b":16,"x":1.50,"y":16.12},{"b":16,"x":1.59,"y":15.88},{"b":16,"x":1.68,"y":16.12},{"b":16,"x":1.77,"y":15.89},{"b":16,"x":1.86,"y":16.11},{"b":16,"x":1.95,"y":15.89},{"b":16,"x":2.04,"y":16.10},{"b":16,"x":2.13,"y":15.90},{"b":16,"x":2.22,"y":16.10},{"b":16,"x":2.31,"y":15.91},{"b":16,"x":2.41,"y":16.09},
{"b":16,"x":2.50,"y":15.92},{"b":16,"x":2.59,"y":16.08},{"b":16,"x":2.68,"y":15.91},{"b":16,"x":2.77,"y":16.09},{"b":16,"x":2.86,"y":15.90},{"b":16,"x":2.95,"y":16.10},{"b":16,"x":3.04,"y":15.90},{"b":16,"x":3.13,"y":16.12},{"b":16,"x":3.22,"y":15.86},{"b":16,"x":3.32,"y":16.16},{"b":16,"x":3.41,"y":15.82},{"b":16,"x":3.50,"y":16.19},{"b":16,"x":3.59,"y":15.79},{"b":16,"x":3.68,"y":16.22},{"b":16,"x":3.77,"y":15.76},{"b":16,"x":3.86,"y":16.25},{"b":16,"x":3.95,"y":15.74},{"b":16,"x":4.04,"y":16.27},{"b":16,"x":4.13,"y":15.73},{"b":16,"x":4.23,"y":16.27},{"b":16,"x":4.32,"y":15.72},{"b":16,"x":4.41,"y":16.28},{"b":16,"x":4.50,"y":15.72},{"b":16,"x":4.59,"y":16.28},{"b":16,"x":4.68,"y":15.72},{"b":16,"x":4.77,"y":16.28},{"b":16,"x":4.86,"y":15.72},{"b":16,"x":4.95,"y":16.28},{"b":16,"x":5.04,"y":15.72},{"b":16,"x":5.14,"y":16.28},{"b":16,"x":5.23,"y":15.72},{"b":16,"x":5.32,"y":16.28},{"b":16,"x":5.41,"y":15.72},{"b":16,"x":5.50,"y":16.28},{"b":16,"x":5.59,"y":15.72},{"b":16,"x":5.68,"y":16.28},{"b":16,"x":5.77,"y":15.72},{"b":16,"x":5.86,"y":16.28},{"b":16,"x":5.95,"y":15.72},{"b":16,"x":6.05,"y":16.28},{"b":16,"x":6.14,"y":15.72},{"b":16,"x":6.23,"y":16.28},{"b":16,"x":6.32,"y":15.72},{"b":16,"x":6.41,"y":16.28},{"b":16,"x":6.50,"y":15.72},{"b":16,"x":6.59,"y":16.28},{"b":16,"x":6.68,"y":15.73},{"b":16,"x":6.77,"y":16.26},{"b":16,"x":6.86,"y":15.75},{"b":16,"x":6.96,"y":16.25},{"b":16,"x":7.05,"y":15.76},{"b":16,"x":7.14,"y":16.24},{"b":16,"x":7.23,"y":15.77},{"b":16,"x":7.32,"y":16.23},{"b":16,"x":7.41,"y":15.78},{"b":16,"x":7.50,"y":16.22},{"b":16,"x":7.59,"y":15.78},{"b":16,"x":7.68,"y":16.22},{"b":16,"x":7.77,"y":15.78},{"b":16,"x":7.87,"y":16.22},{"b":16,"x":7.96,"y":15.78},{"b":16,"x":8.05,"y":16.22},
{"b":17,"x":0,"y":17},{"b":17,"x":2.50,"y":17.02},{"b":17,"x":2.59,"y":16.97},{"b":17,"x":2.68,"y":17.04},{"b":17,"x":2.77,"y":16.94},{"b":17,"x":2.86,"y":17.07},{"b":17,"x":2.95,"y":16.93},{"b":17,"x":3.04,"y":17.08},{"b":17,"x":3.13,"y":16.90},{"b":17,"x":3.22,"y":17.12},{"b":17,"x":3.32,"y":16.86},{"b":17,"x":3.41,"y":17.16},{"b":17,"x":3.50,"y":16.83},{"b":17,"x":3.59,"y":17.19},{"b":17,"x":3.68,"y":16.80},{"b":17,"x":3.77,"y":17.22},{"b":17,"x":3.86,"y":16.77},{"b":17,"x":3.95,"y":17.24},{"b":17,"x":4.04,"y":16.75},{"b":17,"x":4.13,"y":17.26},{"b":17,"x":4.23,"y":16.74},{"b":17,"x":4.32,"y":17.27},{"b":17,"x":4.41,"y":16.73},{"b":17,"x":4.50,"y":17.28},{"b":17,"x":4.59,"y":16.72},{"b":17,"x":4.68,"y":17.28},{"b":17,"x":4.77,"y":16.72},{"b":17,"x":4.86,"y":17.28},{"b":17,"x":4.95,"y":16.72},{"b":17,"x":5.04,"y":17.28},{"b":17,"x":5.14,"y":16.72},{"b":17,"x":5.23,"y":17.28},{"b":17,"x":5.32,"y":16.72},{"b":17,"x":5.41,"y":17.28},{"b":17,"x":5.50,"y":16.72},{"b":17,"x":5.59,"y":17.28},{"b":17,"x":5.68,"y":16.72},{"b":17,"x":5.77,"y":17.28},{"b":17,"x":5.86,"y":16.72},{"b":17,"x":5.95,"y":17.28},{"b":17,"x":6.05,"y":16.72},{"b":17,"x":6.14,"y":17.27},{"b":17,"x":6.23,"y":16.73},{"b":17,"x":6.32,"y":17.26},{"b":17,"x":6.41,"y":16.74},{"b":17,"x":6.50,"y":17.25},{"b":17,"x":6.59,"y":16.75},{"b":17,"x":6.68,"y":17.24},{"b":17,"x":6.77,"y":16.77},{"b":17,"x":6.86,"y":17.22},{"b":17,"x":6.96,"y":16.79},{"b":17,"x":7.05,"y":17.20},{"b":17,"x":7.14,"y":16.80},{"b":17,"x":7.23,"y":17.19},{"b":17,"x":7.32,"y":16.81},{"b":17,"x":7.41,"y":17.19},{"b":17,"x":7.50,"y":16.82},{"b":17,"x":7.59,"y":17.18},{"b":17,"x":7.68,"y":16.82},{"b":17,"x":7.77,"y":17.18},{"b":17,"x":7.87,"y":16.82},{"b":17,"x":7.96,"y":17.18},{"b":17,"x":8.05,"y":16.82},
{"b":18,"x":0,"y":18},{"b":18,"x":2.50,"y":17.98},{"b":18,"x":2.59,"y":18.03},{"b":18,"x":2.68,"y":17.96},{"b":18,"x":2.77,"y":18.05},{"b":18,"x":2.86,"y":17.94},{"b":18,"x":2.95,"y":18.07},{"b":18,"x":3.04,"y":17.93},{"b":18,"x":3.13,"y":18.09},{"b":18,"x":3.22,"y":17.89},{"b":18,"x":3.32,"y":18.14},{"b":18,"x":3.41,"y":17.85},{"b":18,"x":3.50,"y":18.17},{"b":18,"x":3.59,"y":17.81},{"b":18,"x":3.68,"y":18.20},{"b":18,"x":3.77,"y":17.78},{"b":18,"x":3.86,"y":18.23},{"b":18,"x":3.95,"y":17.76},{"b":18,"x":4.04,"y":18.25},{"b":18,"x":4.13,"y":17.74},{"b":18,"x":4.23,"y":18.26},{"b":18,"x":4.32,"y":17.73},{"b":18,"x":4.41,"y":18.27},{"b":18,"x":4.50,"y":17.72},{"b":18,"x":4.59,"y":18.28},{"b":18,"x":4.68,"y":17.72},{"b":18,"x":4.77,"y":18.28},{"b":18,"x":4.86,"y":17.72},{"b":18,"x":4.95,"y":18.28},{"b":18,"x":5.04,"y":17.72},{"b":18,"x":5.14,"y":18.28},{"b":18,"x":5.23,"y":17.72},{"b":18,"x":5.32,"y":18.28},{"b":18,"x":5.41,"y":17.72},{"b":18,"x":5.50,"y":18.28},{"b":18,"x":5.59,"y":17.72},{"b":18,"x":5.68,"y":18.27},{"b":18,"x":5.77,"y":17.73},{"b":18,"x":5.86,"y":18.27},{"b":18,"x":5.95,"y":17.74},{"b":18,"x":6.05,"y":18.26},{"b":18,"x":6.14,"y":17.75},{"b":18,"x":6.23,"y":18.24},{"b":18,"x":6.32,"y":17.76},{"b":18,"x":6.41,"y":18.23},{"b":18,"x":6.50,"y":17.78},{"b":18,"x":6.59,"y":18.22},{"b":18,"x":6.68,"y":17.79},{"b":18,"x":6.77,"y":18.20},{"b":18,"x":6.86,"y":17.81},{"b":18,"x":6.96,"y":18.19},{"b":18,"x":7.05,"y":17.82},{"b":18,"x":7.14,"y":18.17},{"b":18,"x":7.23,"y":17.83},{"b":18,"x":7.32,"y":18.16},{"b":18,"x":7.41,"y":17.84},{"b":18,"x":7.50,"y":18.15},{"b":18,"x":7.59,"y":17.85},{"b":18,"x":7.68,"y":18.15},{"b":18,"x":7.77,"y":17.84},{"b":18,"x":7.87,"y":18.16},{"b":18,"x":7.96,"y":17.83},{"b":18,"x":8.05,"y":18.17},
{"b":19,"x":0,"y":19},{"b":19,"x":2.50,"y":19.02},{"b":19,"x":2.59,"y":18.97},{"b":19,"x":2.68,"y":19.03},{"b":19,"x":2.77,"y":18.96},{"b":19,"x":2.86,"y":19.04},{"b":19,"x":2.95,"y":18.95},{"b":19,"x":3.04,"y":19.05},{"b":19,"x":3.13,"y":18.93},{"b":19,"x":3.22,"y":19.09},{"b":19,"x":3.32,"y":18.89},{"b":19,"x":3.41,"y":19.13},{"b":19,"x":3.50,"y":18.86},{"b":19,"x":3.59,"y":19.16},{"b":19,"x":3.68,"y":18.82},{"b":19,"x":3.77,"y":19.20},{"b":19,"x":3.86,"y":18.78},{"b":19,"x":3.95,"y":19.24},{"b":19,"x":4.04,"y":18.75},{"b":19,"x":4.13,"y":19.26},{"b":19,"x":4.23,"y":18.74},{"b":19,"x":4.32,"y":19.27},{"b":19,"x":4.41,"y":18.73},{"b":19,"x":4.50,"y":19.28},{"b":19,"x":4.59,"y":18.72},{"b":19,"x":4.68,"y":19.28},{"b":19,"x":4.77,"y":18.72},{"b":19,"x":4.86,"y":19.28},{"b":19,"x":4.95,"y":18.72},{"b":19,"x":5.04,"y":19.28},{"b":19,"x":5.14,"y":18.72},{"b":19,"x":5.23,"y":19.28},{"b":19,"x":5.32,"y":18.72},{"b":19,"x":5.41,"y":19.28},{"b":19,"x":5.50,"y":18.72},{"b":19,"x":5.59,"y":19.28},{"b":19,"x":5.68,"y":18.73},{"b":19,"x":5.77,"y":19.27},{"b":19,"x":5.86,"y":18.74},{"b":19,"x":5.95,"y":19.25},{"b":19,"x":6.05,"y":18.75},{"b":19,"x":6.14,"y":19.24},{"b":19,"x":6.23,"y":18.77},{"b":19,"x":6.32,"y":19.22},{"b":19,"x":6.41,"y":18.79},{"b":19,"x":6.50,"y":19.20},{"b":19,"x":6.59,"y":18.80},{"b":19,"x":6.68,"y":19.19},{"b":19,"x":6.77,"y":18.82},{"b":19,"x":6.86,"y":19.17},{"b":19,"x":6.96,"y":18.84},{"b":19,"x":7.05,"y":19.15},{"b":19,"x":7.14,"y":18.86},{"b":19,"x":7.23,"y":19.14},{"b":19,"x":7.32,"y":18.87},{"b":19,"x":7.41,"y":19.13},{"b":19,"x":7.50,"y":18.88},{"b":19,"x":7.59,"y":19.12},{"b":19,"x":7.68,"y":18.87},{"b":19,"x":7.77,"y":19.14},{"b":19,"x":7.87,"y":18.86},{"b":19,"x":7.96,"y":19.15},{"b":19,"x":8.05,"y":18.85},
{"b":20,"x":0,"y":20},{"b":20,"x":0.31,"y":20},{"b":20,"x":0.40,"y":20.03},{"b":20,"x":0.49,"y":19.97},{"b":20,"x":0.59,"y":20.04},{"b":20,"x":0.68,"y":19.96},{"b":20,"x":0.77,"y":20.04},{"b":20,"x":0.86,"y":19.96},{"b":20,"x":0.95,"y":20.04},{"b":20,"x":1.04,"y":19.96},{"b":20,"x":1.13,"y":20.04},{"b":20,"x":1.22,"y":19.96},{"b":20,"x":1.31,"y":20.04},{"b":20,"x":1.40,"y":19.96},{"b":20,"x":1.50,"y":20.04},{"b":20,"x":1.59,"y":19.96},{"b":20,"x":1.68,"y":20.04},{"b":20,"x":1.77,"y":19.96},{"b":20,"x":1.86,"y":20.04},{"b":20,"x":1.95,"y":19.96},{"b":20,"x":2.04,"y":20.04},{"b":20,"x":2.13,"y":19.97},{"b":20,"x":2.22,"y":20.03},{"b":20,"x":2.31,"y":19.98},{"b":20,"x":2.41,"y":20.02},
{"b":20,"x":2.50,"y":19.98},{"b":20,"x":2.59,"y":20.02},{"b":20,"x":2.68,"y":19.98},{"b":20,"x":2.77,"y":20.02},{"b":20,"x":2.86,"y":19.97},{"b":20,"x":2.95,"y":20.04},{"b":20,"x":3.04,"y":19.95},{"b":20,"x":3.13,"y":20.08},{"b":20,"x":3.22,"y":19.89},{"b":20,"x":3.32,"y":20.14},{"b":20,"x":3.41,"y":19.84},{"b":20,"x":3.50,"y":20.19},{"b":20,"x":3.59,"y":19.79},{"b":20,"x":3.68,"y":20.22},{"b":20,"x":3.77,"y":19.76},{"b":20,"x":3.86,"y":20.25},{"b":20,"x":3.95,"y":19.73},{"b":20,"x":4.04,"y":20.28},{"b":20,"x":4.13,"y":19.72},{"b":20,"x":4.23,"y":20.29},{"b":20,"x":4.32,"y":19.71},{"b":20,"x":4.41,"y":20.30},{"b":20,"x":4.50,"y":19.70},{"b":20,"x":4.59,"y":20.30},{"b":20,"x":4.68,"y":19.70},{"b":20,"x":4.77,"y":20.30},{"b":20,"x":4.86,"y":19.70},{"b":20,"x":4.95,"y":20.30},{"b":20,"x":5.04,"y":19.70},{"b":20,"x":5.14,"y":20.30},{"b":20,"x":5.23,"y":19.70},{"b":20,"x":5.32,"y":20.30},{"b":20,"x":5.41,"y":19.70},{"b":20,"x":5.50,"y":20.30},{"b":20,"x":5.59,"y":19.70},{"b":20,"x":5.68,"y":20.29},{"b":20,"x":5.77,"y":19.72},{"b":20,"x":5.86,"y":20.27},{"b":20,"x":5.95,"y":19.74},{"b":20,"x":6.05,"y":20.25},{"b":20,"x":6.14,"y":19.76},{"b":20,"x":6.23,"y":20.22},{"b":20,"x":6.32,"y":19.79},{"b":20,"x":6.41,"y":20.20},{"b":20,"x":6.50,"y":19.81},{"b":20,"x":6.59,"y":20.17},{"b":20,"x":6.68,"y":19.84},{"b":20,"x":6.77,"y":20.15},{"b":20,"x":6.86,"y":19.86},{"b":20,"x":6.96,"y":20.13},{"b":20,"x":7.05,"y":19.88},{"b":20,"x":7.14,"y":20.12},{"b":20,"x":7.23,"y":19.89},{"b":20,"x":7.32,"y":20.11},{"b":20,"x":7.41,"y":19.89},{"b":20,"x":7.50,"y":20.10},{"b":20,"x":7.59,"y":19.90},{"b":20,"x":7.68,"y":20.10},{"b":20,"x":7.77,"y":19.89},{"b":20,"x":7.87,"y":20.11},{"b":20,"x":7.96,"y":19.88},{"b":20,"x":8.05,"y":20.12}
],
"tracks":[
{"x":0.42,"x2":2.06,"y":-1,"y2":16.3},{"x":0.60,"x2":2.59,"y":-1,"y2":20},{"x":0.79,"x2":2.78,"y":-1,"y2":20},{"x":0.97,"x2":2.96,"y":-1,"y2":20},{"x":1.15,"x2":3.14,"y":-1,"y2":20},{"x":1.33,"x2":3.32,"y":-1,"y2":20},{"x":1.51,"x2":3.50,"y":-1,"y2":20},{"x":1.70,"x2":3.69,"y":-1,"y2":20},{"x":1.88,"x2":3.87,"y":-1,"y2":20},{"x":2.06,"x2":4.05,"y":-1,"y2":20},{"x":2.24,"x2":4.23,"y":-1,"y2":20},{"x":2.42,"x2":4.41,"y":-1,"y2":20},{"x":2.61,"x2":4.60,"y":-1,"y2":20},{"x":2.79,"x2":4.78,"y":-1,"y2":20},{"x":2.97,"x2":4.96,"y":-1,"y2":20},{"x":3.15,"x2":5.14,"y":-1,"y2":20},{"x":3.33,"x2":5.32,"y":-1,"y2":20},{"x":3.52,"x2":5.51,"y":-1,"y2":20},{"x":3.70,"x2":5.69,"y":-1,"y2":20},{"x":3.88,"x2":5.87,"y":-1,"y2":20},{"x":4.06,"x2":6.05,"y":-1,"y2":20},{"x":4.24,"x2":6.23,"y":-1,"y2":20},{"x":4.43,"x2":6.42,"y":-1,"y2":20},{"x":4.61,"x2":6.60,"y":-1,"y2":20},{"x":4.79,"x2":6.78,"y":-1,"y2":20},{"x":4.97,"x2":6.96,"y":-1,"y2":20},{"x":5.15,"x2":7.14,"y":-1,"y2":20},{"x":5.34,"x2":7.33,"y":-1,"y2":20},{"x":5.52,"x2":7.51,"y":-1,"y2":20},{"x":5.70,"x2":7.69,"y":-1,"y2":20},{"x":5.88,"x2":7.87,"y":-1,"y2":20},{"x":6.06,"x2":8.05,"y":-1,"y2":20},{"x":6.25,"x2":8.24,"y":-1,"y2":20},{"x":6.43,"x2":8.42,"y":-1,"y2":20},{"x":6.61,"x2":8.60,"y":-1,"y2":20},{"x":6.79,"x2":8.78,"y":-1,"y2":20},{"x":6.97,"x2":8.96,"y":-1,"y2":20},{"x":7.16,"x2":9.15,"y":-1,"y2":20},{"x":7.34,"x2":9.33,"y":-1,"y2":20},{"x":7.52,"x2":9.51,"y":-1,"y2":20},{"x":7.70,"x2":9.69,"y":-1,"y2":20},{"x":7.88,"x2":9.87,"y":-1,"y2":20}
],
"dashed":[{"x":2.06,"x2":2.41,"y":16.3,"y2":20}],
"upper":[
{"x":0.03,"x2":0.41,"y":16,"y2":20},{"x":0.21,"x2":0.59,"y":16,"y2":20},{"x":0.39,"x2":0.77,"y":16,"y2":20},{"x":0.58,"x2":0.96,"y":16,"y2":20},{"x":0.76,"x2":1.14,"y":16,"y2":20},{"x":0.94,"x2":1.32,"y":16,"y2":20},{"x":1.12,"x2":1.50,"y":16,"y2":20},{"x":1.30,"x2":1.68,"y":16,"y2":20},{"x":1.55,"x2":1.87,"y":16.6,"y2":20},{"x":1.73,"x2":2.05,"y":16.6,"y2":20},{"x":1.91,"x2":2.23,"y":16.6,"y2":20}
],
"leaders":[
{"g":1,"o":1,"x":1.946,"y":20.66},{"g":1,"o":2,"x":2.08,"y":20.66},{"g":1,"o":3,"x":2.195,"y":20.07},
{"g":2,"o":1,"x":2.955,"y":21.0},{"g":2,"o":2,"x":2.68,"y":21.0},{"g":2,"o":3,"x":2.372,"y":19.44}
],
"notes":[
{"x":0.185,"y":20.48,"t":"Blade vibration"},{"x":3.01,"y":20.48,"t":"Track of disturbance peaks"}
],
"xtitle":[{"x":3.84,"y":-4.95,"t":"t/t"}],
"xsub":[{"x":4.10,"y":-5.25,"t":"bp"}]
},
"layer":[
{"data":{"name":"blades"},
 "mark":{"type":"line","interpolate":"monotone","stroke":"#ef7461","strokeWidth":1.7,"opacity":0.9,"clip":true},
 "encoding":{
  "x":{"field":"x","type":"quantitative","scale":{"domain":[0,8],"nice":false,"zero":false},
       "axis":{"values":[0,1,2,3,4,5,6,7,8],"format":"d","labelFlush":false,"title":null,"grid":false,"domain":false,"labelFontSize":27,"labelFont":"Liberation Serif","labelColor":"#000","tickColor":"#8c8c8c","tickWidth":1.5,"tickSize":6,"labelPadding":1}},
  "y":{"field":"y","type":"quantitative","scale":{"domain":[-2.09,21.45],"nice":false,"zero":false},
       "axis":{"values":[0,2,4,5,6,8,10,12,14,15,16,18,20],"format":"d","labelFlush":false,"labelExpr":"datum.value == 5 || datum.value == 15 ? '' : datum.label","title":"Blade","titleFont":"Liberation Serif","titleFontSize":27,"titleFontWeight":"normal","titleColor":"#000","titlePadding":4,"grid":false,"domain":false,"labelFontSize":27,"labelFont":"Liberation Serif","labelColor":"#000","tickColor":"#8c8c8c","tickWidth":1.5,"tickSize":6,"labelPadding":3}},
  "detail":{"field":"b","type":"nominal"}}},
{"data":{"name":"tracks"},
 "mark":{"type":"rule","stroke":"#6e6e6e","strokeWidth":2,"opacity":0.8,"clip":true},
 "encoding":{"x":{"field":"x","type":"quantitative"},"x2":{"field":"x2"},"y":{"field":"y","type":"quantitative"},"y2":{"field":"y2"}}},
{"data":{"name":"dashed"},
 "mark":{"type":"rule","stroke":"#6e6e6e","strokeWidth":1.7,"opacity":0.8,"strokeDash":[4,4],"clip":true},
 "encoding":{"x":{"field":"x","type":"quantitative"},"x2":{"field":"x2"},"y":{"field":"y","type":"quantitative"},"y2":{"field":"y2"}}},
{"data":{"name":"upper"},
 "mark":{"type":"rule","stroke":"#858585","strokeWidth":1.5,"opacity":0.8,"clip":true},
 "encoding":{"x":{"field":"x","type":"quantitative"},"x2":{"field":"x2"},"y":{"field":"y","type":"quantitative"},"y2":{"field":"y2"}}},
{"data":{"name":"leaders"},
 "mark":{"type":"line","stroke":"#333","strokeWidth":1.1},
 "encoding":{"x":{"field":"x","type":"quantitative"},"y":{"field":"y","type":"quantitative"},"detail":{"field":"g","type":"nominal"},"order":{"field":"o","type":"quantitative"}}},
{"data":{"name":"notes"},
 "mark":{"type":"text","align":"left","baseline":"alphabetic","font":"Liberation Serif","fontSize":28,"color":"#000"},
 "encoding":{"x":{"field":"x","type":"quantitative"},"y":{"field":"y","type":"quantitative"},"text":{"field":"t"}}},
{"data":{"name":"xtitle"},
 "mark":{"type":"text","align":"left","baseline":"alphabetic","font":"Liberation Serif","fontStyle":"italic","fontSize":28,"color":"#000"},
 "encoding":{"x":{"field":"x","type":"quantitative"},"y":{"field":"y","type":"quantitative"},"text":{"field":"t"}}},
{"data":{"name":"xsub"},
 "mark":{"type":"text","align":"left","baseline":"alphabetic","font":"Liberation Serif","fontStyle":"italic","fontSize":19,"color":"#000"},
 "encoding":{"x":{"field":"x","type":"quantitative"},"y":{"field":"y","type":"quantitative"},"text":{"field":"t"}}}
]
}
